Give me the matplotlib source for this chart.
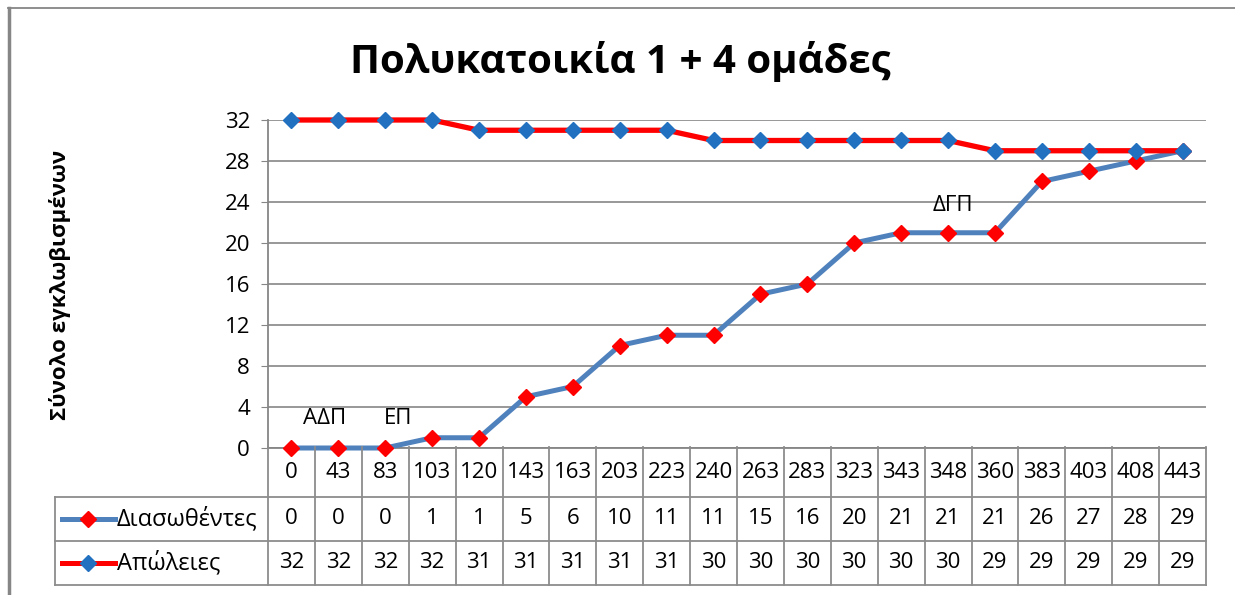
import matplotlib.pyplot as plt
from matplotlib.transforms import blended_transform_factory
from matplotlib.lines import Line2D

plt.rcParams['font.family'] = ['Open Sans', 'DejaVu Sans']

# δεδομένα
minutes = ['0', '43', '83', '103', '120', '143', '163', '203', '223', '240',
           '263', '283', '323', '343', '348', '360', '383', '403', '408', '443']
saved = [0, 0, 0, 1, 1, 5, 6, 10, 11, 11, 15, 16, 20, 21, 21, 21, 26, 27, 28, 29]
lost = [32, 32, 32, 32, 31, 31, 31, 31, 31, 30, 30, 30, 30, 30, 30, 29, 29, 29, 29, 29]
series_names = ['Διασωθέντες', 'Απώλειες']
yticks = [0, 4, 8, 12, 16, 20, 24, 28, 32]

W, H = 1235, 595
blue = '#4F81BD'
red = '#FF0000'
mblue = '#2270C0'
grey = '#868686'
fs = 16

fig = plt.figure(figsize=(W / 100, H / 100), dpi=100)
ax = fig.add_axes([268 / W, 1 - 448 / H, (1206 - 268) / W, (448 - 120) / H])

x = list(range(len(minutes)))
ax.plot(x, saved, color=blue, lw=3.6, marker='D', ms=8.5, mfc=red, mec=red,
        solid_joinstyle='round', zorder=3, clip_on=False)
ax.plot(x, lost, color=red, lw=3.8, marker='D', ms=8.5, mfc=mblue, mec=mblue,
        solid_joinstyle='round', zorder=3, clip_on=False)

ax.set_xlim(-0.5, len(minutes) - 0.5)
ax.set_ylim(0, 32)
ax.set_yticks(yticks)
ax.set_xticks([])
ax.tick_params(axis='y', labelsize=fs, length=5, color=grey, pad=8)
ax.grid(axis='y', color=grey, lw=1.2)
ax.set_axisbelow(True)
for s in ['top', 'right']:
    ax.spines[s].set_visible(False)
for s in ['left', 'bottom']:
    ax.spines[s].set_color(grey)
    ax.spines[s].set_linewidth(1.3)

# σημειώσεις
ax.text(0.71, 2.9, 'ΑΔΠ', fontsize=fs, ha='center', va='center')
ax.text(2.27, 2.9, 'ΕΠ', fontsize=fs, ha='center', va='center')
ax.text(14.1, 23.7, 'ΔΓΠ', fontsize=fs, ha='center', va='center')

# πίνακας δεδομένων
tr = blended_transform_factory(ax.transData, fig.transFigure)
rows = [447, 497, 541, 585]
ry = [1 - r / H for r in rows]
n = len(minutes)
tc = '#8C8C8C'
for k in range(n + 1):
    fig.add_artist(Line2D([k - 0.5, k - 0.5], [ry[0], ry[3]], transform=tr,
                          color=tc, lw=1.3))
for r in ry[1:]:
    fig.add_artist(Line2D([55 / W, 1206 / W], [r, r], transform=fig.transFigure,
                          color=tc, lw=1.3))
fig.add_artist(Line2D([55 / W, 55 / W], [ry[1], ry[3]], transform=fig.transFigure,
                      color=tc, lw=1.3))

for i in range(n):
    fig.text(i, (ry[0] + ry[1]) / 2, minutes[i], transform=tr, ha='center',
             va='center', fontsize=fs)
    fig.text(i, (ry[1] + ry[2]) / 2, str(saved[i]), transform=tr, ha='center',
             va='center', fontsize=fs)
    fig.text(i, (ry[2] + ry[3]) / 2, str(lost[i]), transform=tr, ha='center',
             va='center', fontsize=fs)

# υπόμνημα μέσα στον πίνακα
for j, (lc, mc) in enumerate([(blue, red), (red, mblue)]):
    yc = (ry[j + 1] + ry[j + 2]) / 2
    fig.add_artist(Line2D([62 / W, 115 / W], [yc, yc], transform=fig.transFigure,
                          color=lc, lw=3.6))
    fig.add_artist(Line2D([88 / W], [yc], transform=fig.transFigure, marker='D',
                          ms=8.5, mfc=mc, mec=mc))
    fig.text(117 / W, yc, series_names[j], ha='left', va='center', fontsize=17)

# τίτλοι
fig.text(620 / W, 1 - 62 / H, 'Πολυκατοικία 1 + 4 ομάδες', ha='center',
         va='center', fontsize=29, fontweight='bold')
fig.text(60 / W, 1 - 285 / H, 'Σύνολο εγκλωβισμένων', rotation=90, ha='center',
         va='center', fontsize=16, fontweight='bold')

# πλαίσιο
fig.add_artist(Line2D([9 / W, 9 / W], [1 - 8 / H, 0], transform=fig.transFigure,
                      color=grey, lw=2.5))
fig.add_artist(Line2D([8 / W, 1], [1 - 8 / H, 1 - 8 / H], transform=fig.transFigure,
                      color=grey, lw=1.3))

fig.savefig('out.png', dpi=100)
